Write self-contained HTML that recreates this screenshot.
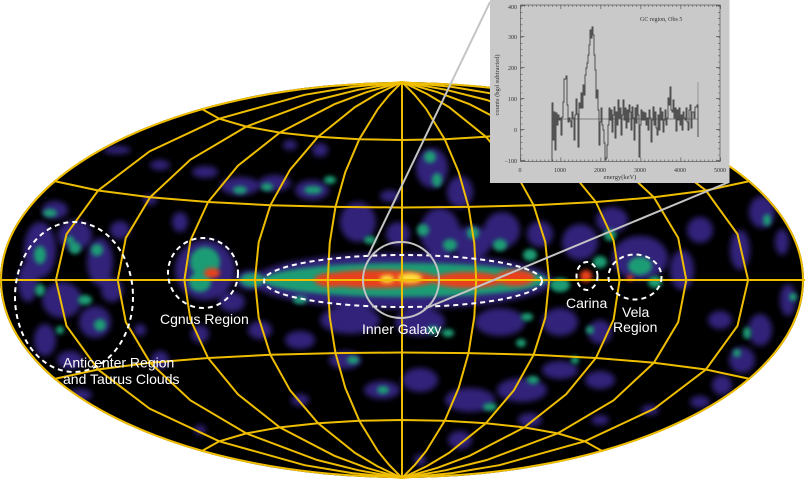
<!DOCTYPE html>
<html><head><meta charset="utf-8"><style>
html,body{margin:0;padding:0;background:#fff;}
svg{display:block;}
</style></head><body>
<svg width="805" height="480" viewBox="0 0 805 480" xmlns="http://www.w3.org/2000/svg">
<defs>
<clipPath id="ell"><ellipse cx="402" cy="280" rx="402" ry="198"/></clipPath>
<filter id="bp" x="-50%" y="-50%" width="200%" height="200%"><feGaussianBlur stdDeviation="3"/></filter>
<filter id="bg" x="-50%" y="-50%" width="200%" height="200%"><feGaussianBlur stdDeviation="2.2"/></filter>
<filter id="br" x="-50%" y="-50%" width="200%" height="200%"><feGaussianBlur stdDeviation="2.2"/></filter>
</defs>
<rect width="805" height="480" fill="#fff"/>
<g clip-path="url(#ell)">
<rect x="0" y="80" width="805" height="400" fill="#000"/>
<g fill="#33237a" filter="url(#bp)">
<ellipse cx="40" cy="250" rx="16" ry="28"/><ellipse cx="75" cy="235" rx="17" ry="15"/><ellipse cx="100" cy="262" rx="13" ry="24"/>
<ellipse cx="62" cy="300" rx="20" ry="18"/><ellipse cx="95" cy="322" rx="16" ry="16"/><ellipse cx="45" cy="340" rx="11" ry="16"/>
<ellipse cx="112" cy="290" rx="11" ry="12"/><ellipse cx="28" cy="282" rx="10" ry="20"/><ellipse cx="70" cy="360" rx="13" ry="9"/>
<ellipse cx="120" cy="230" rx="10" ry="9"/><ellipse cx="55" cy="210" rx="13" ry="9"/><ellipse cx="80" cy="395" rx="12" ry="6"/>
<ellipse cx="117" cy="150" rx="14" ry="4"/><ellipse cx="160" cy="165" rx="10" ry="5"/><ellipse cx="205" cy="172" rx="13" ry="6"/>
<ellipse cx="240" cy="186" rx="20" ry="9"/><ellipse cx="275" cy="183" rx="16" ry="8"/><ellipse cx="312" cy="190" rx="17" ry="10"/>
<ellipse cx="320" cy="150" rx="8" ry="7"/><ellipse cx="290" cy="145" rx="7" ry="5"/><ellipse cx="150" cy="200" rx="7" ry="5"/><ellipse cx="180" cy="222" rx="8" ry="10"/>
<ellipse cx="205" cy="270" rx="30" ry="30"/><ellipse cx="250" cy="280" rx="14" ry="10"/><ellipse cx="232" cy="302" rx="13" ry="10"/>
<ellipse cx="402" cy="281" rx="150" ry="28"/>
<ellipse cx="358" cy="222" rx="18" ry="20"/><ellipse cx="398" cy="234" rx="12" ry="12"/><ellipse cx="440" cy="232" rx="20" ry="24"/>
<ellipse cx="432" cy="168" rx="16" ry="20"/><ellipse cx="460" cy="192" rx="13" ry="16"/><ellipse cx="472" cy="242" rx="20" ry="16"/>
<ellipse cx="502" cy="230" rx="18" ry="18"/><ellipse cx="540" cy="234" rx="13" ry="13"/><ellipse cx="390" cy="196" rx="10" ry="6"/>
<ellipse cx="580" cy="242" rx="18" ry="18"/><ellipse cx="612" cy="220" rx="16" ry="13"/><ellipse cx="640" cy="258" rx="28" ry="22"/>
<ellipse cx="682" cy="270" rx="12" ry="20"/><ellipse cx="700" cy="230" rx="13" ry="13"/><ellipse cx="740" cy="250" rx="10" ry="20"/>
<ellipse cx="762" cy="212" rx="13" ry="16"/><ellipse cx="782" cy="242" rx="7" ry="13"/><ellipse cx="788" cy="300" rx="8" ry="16"/>
<ellipse cx="720" cy="320" rx="12" ry="9"/><ellipse cx="760" cy="330" rx="12" ry="16"/><ellipse cx="742" cy="360" rx="13" ry="13"/>
<ellipse cx="722" cy="385" rx="10" ry="10"/><ellipse cx="700" cy="402" rx="10" ry="6"/>
<ellipse cx="350" cy="320" rx="30" ry="14"/><ellipse cx="420" cy="322" rx="25" ry="14"/><ellipse cx="500" cy="322" rx="25" ry="14"/>
<ellipse cx="560" cy="322" rx="18" ry="14"/><ellipse cx="600" cy="332" rx="12" ry="12"/><ellipse cx="345" cy="360" rx="16" ry="9"/>
<ellipse cx="382" cy="390" rx="18" ry="9"/><ellipse cx="420" cy="380" rx="18" ry="12"/><ellipse cx="470" cy="400" rx="25" ry="12"/>
<ellipse cx="522" cy="390" rx="25" ry="12"/><ellipse cx="560" cy="370" rx="18" ry="9"/><ellipse cx="600" cy="380" rx="15" ry="9"/>
<ellipse cx="460" cy="440" rx="12" ry="9"/><ellipse cx="530" cy="420" rx="12" ry="7"/><ellipse cx="300" cy="340" rx="15" ry="9"/>
<ellipse cx="260" cy="330" rx="12" ry="9"/><ellipse cx="200" cy="334" rx="9" ry="9"/><ellipse cx="160" cy="360" rx="9" ry="9"/>
<ellipse cx="140" cy="330" rx="6" ry="6"/><ellipse cx="300" cy="400" rx="9" ry="6"/><ellipse cx="200" cy="430" rx="6" ry="5"/>
<ellipse cx="420" cy="460" rx="6" ry="6"/><ellipse cx="600" cy="420" rx="9" ry="5"/><ellipse cx="650" cy="410" rx="9" ry="5"/>
</g>
<g fill="#1a9c74" filter="url(#bg)">
<ellipse cx="40" cy="255" rx="6" ry="9"/><ellipse cx="75" cy="248" rx="6" ry="6"/><ellipse cx="97" cy="250" rx="6" ry="6"/>
<ellipse cx="50" cy="213" rx="7" ry="4"/><ellipse cx="40" cy="290" rx="5" ry="6"/><ellipse cx="85" cy="300" rx="7" ry="5"/>
<ellipse cx="100" cy="325" rx="6" ry="6"/><ellipse cx="60" cy="330" rx="4" ry="4"/><ellipse cx="70" cy="240" rx="4" ry="4"/>
<ellipse cx="313" cy="190" rx="9" ry="4"/><ellipse cx="240" cy="190" rx="7" ry="4"/><ellipse cx="267" cy="187" rx="6" ry="4"/>
<ellipse cx="330" cy="180" rx="6" ry="4"/><ellipse cx="205" cy="262" rx="15" ry="15"/><ellipse cx="200" cy="282" rx="11" ry="10"/>
<ellipse cx="430" cy="157" rx="6" ry="6"/><ellipse cx="437" cy="180" rx="5" ry="7"/><ellipse cx="423" cy="230" rx="6" ry="6"/>
<ellipse cx="473" cy="233" rx="6" ry="6"/><ellipse cx="450" cy="245" rx="7" ry="6"/><ellipse cx="370" cy="240" rx="6" ry="4"/>
<ellipse cx="500" cy="245" rx="7" ry="6"/><ellipse cx="530" cy="255" rx="7" ry="6"/>
<ellipse cx="610" cy="235" rx="6" ry="6"/><ellipse cx="600" cy="262" rx="7" ry="6"/><ellipse cx="640" cy="266" rx="12" ry="9"/>
<ellipse cx="655" cy="282" rx="7" ry="6"/><ellipse cx="767" cy="220" rx="4" ry="6"/><ellipse cx="793" cy="297" rx="4" ry="4"/>
<ellipse cx="747" cy="333" rx="4" ry="6"/><ellipse cx="737" cy="353" rx="4" ry="4"/>
<ellipse cx="433" cy="330" rx="6" ry="4"/><ellipse cx="527" cy="317" rx="6" ry="4"/><ellipse cx="590" cy="330" rx="4" ry="4"/>
<ellipse cx="353" cy="360" rx="6" ry="4"/><ellipse cx="383" cy="390" rx="6" ry="4"/><ellipse cx="490" cy="407" rx="7" ry="4"/>
<ellipse cx="533" cy="380" rx="6" ry="4"/><ellipse cx="575" cy="360" rx="4" ry="4"/><ellipse cx="521" cy="343" rx="5" ry="4"/>
<ellipse cx="448" cy="333" rx="6" ry="4"/><ellipse cx="300" cy="300" rx="7" ry="4"/><ellipse cx="252" cy="280" rx="12" ry="7"/>
<ellipse cx="560" cy="285" rx="10" ry="7"/>
<ellipse cx="405" cy="280" rx="142" ry="17"/>
</g>
<g fill="#e8401a" filter="url(#br)">
<ellipse cx="212" cy="273" rx="8" ry="5"/>
<ellipse cx="378" cy="279" rx="60" ry="9"/><ellipse cx="468" cy="280" rx="36" ry="8"/><ellipse cx="515" cy="278" rx="20" ry="8"/>
<ellipse cx="332" cy="280" rx="18" ry="7"/><ellipse cx="586" cy="276" rx="6" ry="6"/><ellipse cx="630" cy="278" rx="3" ry="3"/>
</g>
<g fill="#ffe040" filter="url(#br)">
<ellipse cx="410" cy="278" rx="12" ry="5"/><ellipse cx="387" cy="279" rx="7" ry="4"/>
</g>
</g>
<g fill="none" stroke="#efbe00" stroke-width="2">
<ellipse cx="402" cy="280" rx="401" ry="197"/>
<line x1="0" y1="280" x2="805" y2="280"/>
<line x1="402" y1="82" x2="402" y2="478"/>
<path d="M402,82 L389.2,95 L377.9,108.9 L359.3,139.2 L345.3,172.1 L335.5,206.9 L329.7,243.1 L327.8,280 L329.7,316.9 L335.5,353.1 L345.3,387.9 L359.3,420.8 L377.9,451.1 L389.2,465 L402,478"/>
<path d="M402,82 L414.8,95 L426.1,108.9 L444.7,139.2 L458.7,172.1 L468.5,206.9 L474.3,243.1 L476.2,280 L474.3,316.9 L468.5,353.1 L458.7,387.9 L444.7,420.8 L426.1,451.1 L414.8,465 L402,478"/>
<path d="M402,82 L377.1,93.9 L355,107.1 L318,136.8 L290.1,169.7 L270.4,205.2 L258.7,242.2 L254.9,280 L258.7,317.8 L270.4,354.8 L290.1,390.3 L318,423.2 L355,452.9 L377.1,466.1 L402,478"/>
<path d="M402,82 L426.9,93.9 L449,107.1 L486,136.8 L513.9,169.7 L533.6,205.2 L545.3,242.2 L549.1,280 L545.3,317.8 L533.6,354.8 L513.9,390.3 L486,423.2 L449,452.9 L426.9,466.1 L402,478"/>
<path d="M402,82 L366.5,92.2 L334.4,104.2 L279.8,132.6 L237.9,165.7 L208.1,202 L190.4,240.5 L184.4,280 L190.4,319.5 L208.1,358 L237.9,394.3 L279.8,427.4 L334.4,455.8 L366.5,467.8 L402,478"/>
<path d="M402,82 L437.5,92.2 L469.6,104.2 L524.2,132.6 L566.1,165.7 L595.9,202 L613.6,240.5 L619.6,280 L613.6,319.5 L595.9,358 L566.1,394.3 L524.2,427.4 L469.6,455.8 L437.5,467.8 L402,478"/>
<path d="M402,82 L358,89.8 L317.2,100 L246.3,126.6 L190.4,159.7 L150.1,197.3 L125.8,237.9 L117.7,280 L125.8,322.1 L150.1,362.7 L190.4,400.3 L246.3,433.4 L317.2,460 L358,470.2 L402,478"/>
<path d="M402,82 L446,89.8 L486.8,100 L557.7,126.6 L613.6,159.7 L653.9,197.3 L678.2,237.9 L686.3,280 L678.2,322.1 L653.9,362.7 L613.6,400.3 L557.7,433.4 L486.8,460 L446,470.2 L402,478"/>
<path d="M402,82 L352.1,86.9 L304.7,94.8 L219.3,118.7 L149.6,151.3 L98.1,190.5 L66.5,234.2 L55.9,280 L66.5,325.8 L98.1,369.5 L149.6,408.7 L219.3,441.3 L304.7,465.2 L352.1,473.1 L402,478"/>
<path d="M402,82 L451.9,86.9 L499.3,94.8 L584.7,118.7 L654.4,151.3 L705.9,190.5 L737.5,234.2 L748.1,280 L737.5,325.8 L705.9,369.5 L654.4,408.7 L584.7,441.3 L499.3,465.2 L451.9,473.1 L402,478"/>
<path d="M53.9,181 L98.1,190.5 L150.1,197.3 L208.1,202 L270.4,205.2 L335.5,206.9 L402,207.5 L468.5,206.9 L533.6,205.2 L595.9,202 L653.9,197.3 L705.9,190.5 L750.1,181"/>
<path d="M53.9,379 L98.1,369.5 L150.1,362.7 L208.1,358 L270.4,354.8 L335.5,353.1 L402,352.5 L468.5,353.1 L533.6,354.8 L595.9,358 L653.9,362.7 L705.9,369.5 L750.1,379"/>
<path d="M201,108.5 L219.3,118.7 L246.3,126.6 L279.8,132.6 L318,136.8 L359.3,139.2 L402,140 L444.7,139.2 L486,136.8 L524.2,132.6 L557.7,126.6 L584.7,118.7 L603,108.5"/>
<path d="M201,451.5 L219.3,441.3 L246.3,433.4 L279.8,427.4 L318,423.2 L359.3,420.8 L402,420 L444.7,420.8 L486,423.2 L524.2,427.4 L557.7,433.4 L584.7,441.3 L603,451.5"/>
</g>
<g fill="none" stroke="#fff" stroke-width="2" stroke-dasharray="5 4">
<ellipse cx="74" cy="297" rx="59" ry="75"/>
<ellipse cx="203" cy="273" rx="35" ry="35"/>
<ellipse cx="403" cy="281" rx="139" ry="26"/>
<ellipse cx="587" cy="276" rx="10.5" ry="14"/>
<ellipse cx="635" cy="277" rx="26.5" ry="22.5"/>
</g>
<g stroke="#c4c4c4" stroke-width="2" fill="none">
<circle cx="401" cy="280" r="38"/>
<line x1="490" y1="2" x2="368" y2="256"/>
<line x1="729" y1="182" x2="424" y2="309"/>
</g>
<g fill="#fff" font-family="'Liberation Sans', sans-serif" font-size="14">
<text x="160" y="324">Cgnus Region</text>
<text x="63" y="367.5">Anticenter Region</text>
<text x="63" y="384">and Taurus Clouds</text>
<text x="362" y="334">Inner Galaxy</text>
<text x="566" y="308">Carina</text>
<text x="622" y="317">Vela</text>
<text x="613" y="332">Region</text>
</g>
<rect x="490" y="0" width="239.5" height="183" fill="#c9c9c9"/>
<g stroke="#555" fill="none">
<rect x="520.5" y="5" width="199.5" height="156.5" stroke-width="0.7"/>
<line x1="520.5" y1="160.5" x2="720" y2="160.5" stroke-width="2" stroke-dasharray="0.6 3.4"/>
<line x1="520.5" y1="6" x2="720" y2="6" stroke-width="2" stroke-dasharray="0.6 3.4"/>
<line x1="520.5" y1="159.5" x2="721" y2="159.5" stroke-width="4" stroke-dasharray="0.7 39.3"/>
<line x1="520.5" y1="7" x2="721" y2="7" stroke-width="4" stroke-dasharray="0.7 39.3"/>
<line x1="521.5" y1="161.5" x2="521.5" y2="5" stroke-width="2" stroke-dasharray="0.6 5.6"/>
<line x1="719" y1="161.5" x2="719" y2="5" stroke-width="2" stroke-dasharray="0.6 5.6"/>
<line x1="522.5" y1="161" x2="522.5" y2="5" stroke-width="4" stroke-dasharray="0.7 30.3"/>
<line x1="718" y1="161" x2="718" y2="5" stroke-width="4" stroke-dasharray="0.7 30.3"/>
</g>
<g fill="#333" font-family="'Liberation Serif', serif" font-size="6">
<text x="517" y="9" text-anchor="end">400</text>
<text x="517" y="39" text-anchor="end">300</text>
<text x="517" y="70" text-anchor="end">200</text>
<text x="517" y="101" text-anchor="end">100</text>
<text x="517" y="132" text-anchor="end">0</text>
<text x="517" y="163" text-anchor="end">−100</text>
<text x="520" y="172" text-anchor="middle">0</text>
<text x="560" y="172" text-anchor="middle">1000</text>
<text x="600" y="172" text-anchor="middle">2000</text>
<text x="640" y="172" text-anchor="middle">3000</text>
<text x="680" y="172" text-anchor="middle">4000</text>
<text x="720" y="172" text-anchor="middle">5000</text>
<text x="620" y="179" text-anchor="middle" font-size="6.5">energy(keV)</text>
<text x="640" y="21" font-size="6">GC region, Obs 5</text>
<text transform="translate(499,85) rotate(-90)" text-anchor="middle" font-size="6.5">counts (bgd subtracted)</text>
</g>
<line x1="552" y1="119" x2="698" y2="119" stroke="#333" stroke-width="0.6"/>
<line x1="698" y1="82" x2="698" y2="137" stroke="#777" stroke-width="0.6"/>
<polyline fill="none" stroke="#444" stroke-width="0.9" points="552,161 552,103 553,103 553,140 554,140 554,112 555,112 555,150 556,150 556,113 557,113 557,125 558,125 558,115 559,115 559,120 560,120 560,118 561,118 561,135 562,135 562,117 563,117 563,102 564,102 564,79 566,79 566,76 567,76 567,105 568,105 568,122 569,122 569,118 570,118 570,121 571,121 571,127 572,127 572,112 573,112 573,118 574,118 574,140 575,140 575,115 576,115 576,99 577,99 577,114 578,114 578,147 579,147 579,103 580,103 580,108 581,108 581,93 582,93 582,108 583,108 583,85 584,85 584,95 585,95 585,75 586,75 586,68 587,68 587,63 588,63 588,55 589,55 589,45 590,45 590,30 591,30 591,38 592,38 592,27 593,27 593,35 594,35 594,55 595,55 595,70 596,70 596,98 597,98 597,90 598,90 598,110 599,110 599,145 600,145 600,122 601,122 601,108 602,108 602,125 603,125 603,130 604,130 604,143 605,143 605,160 606,160 606,158 607,158 607,145 608,145 608,125 609,125 609,108 610,108 610,120 611,120 611,110 612,110 612,132 613,132 613,115 614,115 614,107 615,107 615,138 616,138 616,112 617,112 617,125 618,125 618,100 619,100 619,118 620,118 620,108 621,108 621,135 622,135 622,115 623,115 623,100 624,100 624,120 625,120 625,108 626,108 626,128 627,128 627,110 628,110 628,122 629,122 629,105 630,105 630,112 631,112 631,130 632,130 632,107 633,107 633,118 634,118 634,140 635,140 635,108 636,108 636,123 637,123 637,105 638,105 638,115 639,115 639,157 640,157 640,125 641,125 641,110 642,110 642,120 643,120 643,112 644,112 644,120 645,120 645,113 646,113 646,125 647,125 647,118 648,118 648,130 649,130 649,110 650,110 650,118 651,118 651,142 652,142 652,120 653,120 653,107 654,107 654,125 655,125 655,112 656,112 656,128 657,128 657,135 658,135 658,115 659,115 659,130 660,130 660,108 661,108 661,120 662,120 662,112 663,112 663,132 664,132 664,120 665,120 665,110 666,110 666,125 667,125 667,118 668,118 668,98 669,98 669,105 670,105 670,87 671,87 671,110 672,110 672,112 673,112 673,100 674,100 674,118 675,118 675,108 676,108 676,131 677,131 677,110 678,110 678,120 679,120 679,108 680,108 680,125 681,125 681,115 682,115 682,130 683,130 683,112 684,112 684,118 685,118 685,120 686,120 686,108 687,108 687,122 688,122 688,130 689,130 689,110 690,110 690,105 691,105 691,128 692,128 692,112 694,112 694,118 695,118 695,107 697,107 697,105 698,105 698,137"/>
</svg>
</body></html>
